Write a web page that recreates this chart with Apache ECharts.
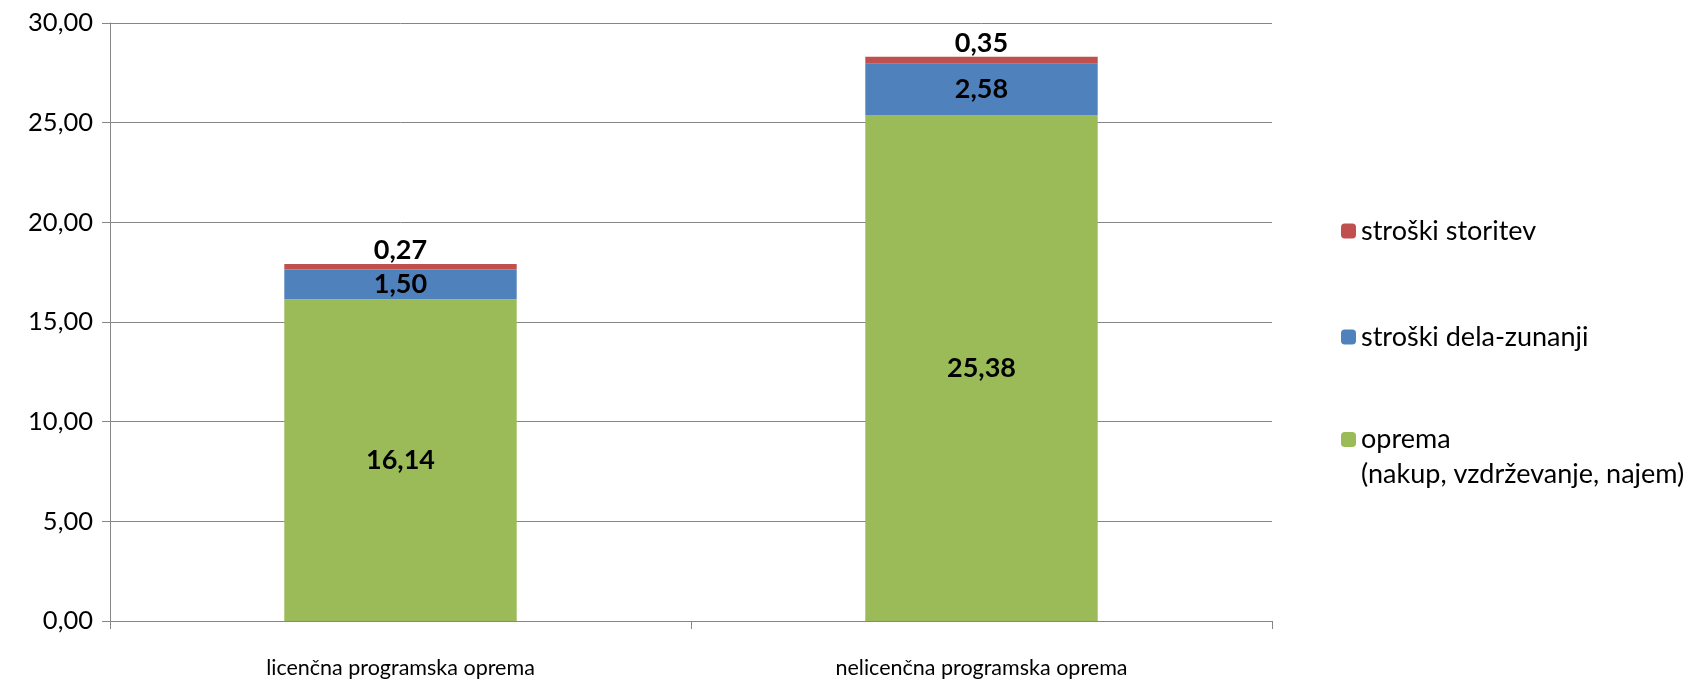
<!DOCTYPE html>
<html>
<head>
<meta charset="utf-8">
<script src="https://cdn.jsdelivr.net/npm/echarts@6/dist/echarts.min.js"></script>
<style>html,body{margin:0;padding:0;background:#fff}#c{width:1700px;height:681px}</style>
</head>
<body>
<div id="c"></div>
<script>
const categories = ['licenčna programska oprema', 'nelicenčna programska oprema'];
const opremaName = 'oprema\n(nakup, vzdrževanje, najem)';
const delaName = 'stroški dela-zunanji';
const storitevName = 'stroški storitev';
const opremaValues = [16.14, 25.38];
const delaValues = [1.50, 2.58];
const storitevValues = [0.27, 0.35];
const yMin = 0, yMax = 30, yInterval = 5;

const FONT = 'Lato';
const fmt = v => Number(v).toFixed(2).replace('.', ',');
const lblInside = {show: true, position: 'inside', color: '#000', fontWeight: 'bold', fontSize: 27, fontFamily: FONT, formatter: p => fmt(p.value)};
const lblTop = {show: true, position: 'top', distance: 0, color: '#000', fontWeight: 'bold', fontSize: 27, fontFamily: FONT, formatter: p => fmt(p.value)};
const legText = {fontFamily: FONT, fontSize: 27, color: '#000', lineHeight: 30};

const chart = echarts.init(document.getElementById('c'));
chart.setOption({
  animation: false,
  grid: {left: 110, right: 428, top: 23, bottom: 60},
  legend: [
    {data: [storitevName], left: 1336, top: 211, orient: 'vertical', itemWidth: 15, itemHeight: 15,
     textStyle: legText},
    {data: [delaName], left: 1336, top: 317, orient: 'vertical', itemWidth: 15, itemHeight: 15,
     textStyle: legText},
    {data: [opremaName], left: 1336, top: 382, orient: 'vertical', itemWidth: 15, itemHeight: 15,
     formatter: name => '\n' + name,
     textStyle: {fontFamily: FONT, fontSize: 27, color: '#000', lineHeight: 35}}
  ],
  xAxis: {
    type: 'category', data: categories,
    axisLine: {lineStyle: {color: '#868686'}},
    axisTick: {show: true, length: 8, lineStyle: {color: '#868686'}},
    axisLabel: {color: '#000', fontFamily: FONT, fontSize: 21.5, margin: 36}
  },
  yAxis: {
    type: 'value', min: yMin, max: yMax, interval: yInterval,
    axisLine: {show: true, lineStyle: {color: '#868686'}},
    axisTick: {show: true, length: 8, lineStyle: {color: '#868686'}},
    splitLine: {lineStyle: {color: '#868686'}},
    axisLabel: {color: '#000', fontFamily: FONT, fontSize: 25.5, margin: 17, formatter: fmt}
  },
  series: [
    {name: opremaName, type: 'bar', stack: 's', data: opremaValues, barWidth: '40%', itemStyle: {color: '#9BBB59'}, label: lblInside},
    {name: delaName, type: 'bar', stack: 's', data: delaValues, itemStyle: {color: '#4F81BD'}, label: lblInside},
    {name: storitevName, type: 'bar', stack: 's', data: storitevValues, itemStyle: {color: '#C0504D'}, label: lblTop}
  ]
});
</script>
</body>
</html>
